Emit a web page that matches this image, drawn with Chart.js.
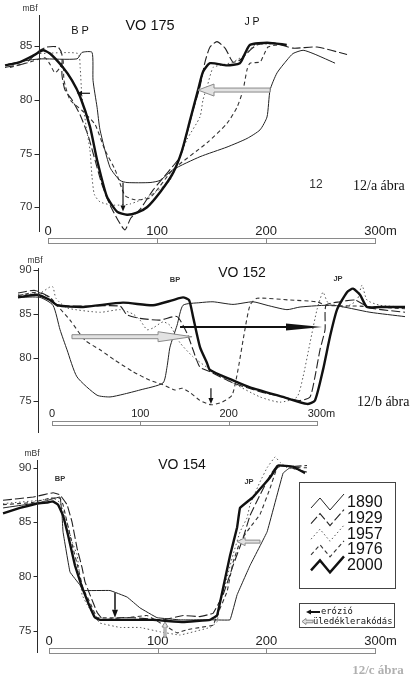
<!DOCTYPE html>
<html>
<head>
<meta charset="utf-8">
<title>VO 175 / VO 152 / VO 154</title>
<script src="https://cdn.jsdelivr.net/npm/chart.js@4.4.1/dist/chart.umd.min.js"></script>
<style>
  html, body { margin: 0; padding: 0; background: #fff; }
  #wrap { position: relative; width: 412px; height: 682px; overflow: hidden; }
  canvas { position: absolute; left: 0; display: block; }
</style>
</head>
<body>
<div id="wrap">
  <canvas id="p1" width="412" height="245" style="top:0"></canvas>
  <canvas id="p2" width="412" height="195" style="top:245px"></canvas>
  <canvas id="p3" width="412" height="242" style="top:440px"></canvas>
</div>
<script>
// évek (jelmagyarázat)
const years = ['1890', '1929', '1957', '1976', '2000'];

// y tengely feliratai (mBf) és a lépték (m)
const ticks175 = [70, 75, 80, 85];
const ticks152 = [75, 80, 85, 90];
const ticks154 = [75, 80, 85, 90];
const barTicks = [0, 100, 200, 300];
const barLabels = ['0', '100', '200', '300m'];

// --- VO 175 szelvény: [távolság m, magasság mBf] ---
const vo175_1890 = [[-36.7,83.3],[-16.5,83.7],[-5.5,83.8],[26.6,83.8],[31.2,84.4],[40.4,84.4],[41.3,81.8],[45,79.3],[47.7,77.2],[56.9,73.7],[66,72.5],[72.5,72.3],[93.6,72.3],[102.8,72.5],[114.7,73.5],[139.4,74.7],[164.2,75.6],[182.6,76.4],[194.5,77.2],[200.9,78.4],[203.7,80.9],[210.1,82.5],[219.3,83.7],[224.8,84.3],[234,84.6],[243.1,84.3],[252.3,83.9],[263.3,83.4]];
const vo175_1929 = [[-39.4,83.0],[-21.1,83.4],[-7.3,84.6],[-0.9,84.9],[9.2,84.9],[12.8,84.2],[12.8,82.3],[15.6,80.9],[22,80.0],[29.4,78.6],[36.7,76.7],[43.1,74.4],[49.5,72.1],[56.9,70.2],[64.2,68.8],[70.6,67.9],[76,69.0],[84.4,69.8],[96.3,71.6],[111.9,73.5],[121.1,74.7],[128.4,77.2],[133,79.0],[139.4,81.2],[144,83.5],[148.6,84.9],[155,85.4],[162.4,84.8],[169.7,83.5],[176.1,83.7],[185.3,84.6],[191.7,85.1],[206.4,85.3],[224.8,84.8],[246.8,84.9],[274.3,84.2]];
const vo175_1957 = [[-7.3,84.3],[27.5,84.3],[29.5,83.0],[31,80.5],[35,77.5],[38.5,75.3],[40.4,72.8],[42.5,71.2],[47.7,70.5],[59.6,70.2],[75.2,70.3],[93.6,71.1],[111.9,72.5],[127.5,76.3],[139.4,78.4],[142.2,80.0],[145.9,81.2],[151.4,83.0],[157.8,83.2],[169.7,83.5],[180.7,84.2],[189.9,85.1],[208.3,85.2]];
const vo175_1976 = [[-34.9,83.0],[-16.5,83.5],[-2.8,83.9],[1.8,83.3],[6.4,82.5],[11,83.0],[13.8,83.7],[14.7,81.8],[20.2,80.0],[31.2,79.0],[43.1,77.7],[52.3,75.3],[61.5,73.5],[70.6,71.1],[79.8,70.7],[93.6,70.9],[114.7,73.5],[145.9,76.0],[164.2,77.8],[173.4,79.3],[178.9,80.9],[182.6,82.8],[185.3,83.4],[194.5,83.5],[197.2,84.0],[201.8,84.9],[210.1,85.1]];
const vo175_2000 = [[-39.4,83.2],[-25.7,83.5],[-11.9,84.2],[-4.6,84.6],[1.8,84.3],[13.8,83.0],[22,81.8],[29.4,80.3],[38.5,77.5],[45,74.4],[54,71.0],[63.3,69.6],[72.5,69.3],[81.7,69.5],[90.8,70.0],[102.8,71.4],[114.7,73.2],[123,75.3],[130.3,78.1],[137.6,80.9],[142.2,82.6],[148.6,83.4],[164.2,83.2],[176,83.4],[180.7,84.3],[185.3,85.1],[201,85.3],[219,85.1]];

// --- VO 152 szelvény ---
const vo152_1890 = [[-38.5,86.9],[-13.6,86.9],[1.1,86.0],[9.1,83.2],[17,80.9],[28.3,77.8],[51,75.7],[65.7,75.5],[80.4,75.8],[99.7,76.3],[125.7,77.1],[130.2,78.9],[133.6,81.2],[141.6,83.7],[148.4,86.0],[167.6,86.3],[182.3,86.4],[205,86.1],[227.6,86.4],[243.5,86.0],[266.1,85.5],[280.9,85.8],[318.2,86.0],[360.1,85.2],[399.8,84.7]];
const vo152_1929 = [[-38.5,87.4],[-19.3,87.7],[-2.3,86.9],[5.7,86.0],[35.1,85.9],[77,85.9],[84.9,84.9],[99.7,84.5],[122.3,84.3],[141.6,84.7],[152.9,82.8],[159.7,80.9],[167.6,78.9],[178.9,78.4],[205,77.1],[235.6,76.1],[261.6,75.5],[280.9,75.1],[292.2,75.5],[297.8,77.8],[303.5,80.9],[309.2,83.2],[310.3,86.0],[326.2,86.4],[343.1,86.6],[360.1,85.7],[399.8,85.2]];
const vo152_1957 = [[-38.5,87.2],[-13.6,87.4],[-2.3,88.1],[1.1,88.1],[4.5,86.8],[17,85.7],[54.4,85.2],[77,85.5],[91.7,85.0],[99.7,84.3],[107.6,83.2],[114.4,83.4],[125.7,84.1],[133.6,83.7],[145,81.7],[159.7,80.1],[175.5,78.9],[205,77.1],[235.6,75.5],[258.2,74.9],[277.5,75.5],[284.3,77.8],[292.2,81.7],[300.1,85.5],[306.9,87.5],[312.6,86.3],[331.8,85.8],[345.4,86.6],[351.1,88.3],[356.7,86.6],[371.5,86.0],[399.8,85.8]];
const vo152_1976 = [[-38.5,87.1],[-17,87.5],[-2.3,86.9],[5.7,86.0],[20.4,84.3],[37.4,82.0],[54.4,80.9],[71.3,79.7],[91.7,78.4],[111,77.4],[125.7,76.9],[139.3,76.3],[147.2,76.5],[156.3,76.0],[167.6,75.1],[180.1,74.6],[192.5,74.9],[203.9,75.7],[210.6,78.6],[217.4,82.6],[224.2,86.0],[232.2,86.8],[269.5,86.6],[300.1,86.4],[310.3,86.0],[348.8,85.9],[399.8,85.6]];
const vo152_2000 = [[-38.5,86.9],[-17,87.2],[-2.3,86.6],[5.7,86.0],[35.1,85.8],[80.4,86.3],[114.4,86.0],[137,86.6],[148.4,86.9],[155.2,86.6],[159.7,84.7],[167.6,81.2],[175.5,79.4],[178.9,78.6],[205,77.4],[224.2,76.6],[261.6,75.5],[288.8,74.7],[297.8,75.1],[306.9,78.6],[314.8,82.4],[322.8,85.5],[334.1,87.5],[340.9,87.9],[348.8,87.2],[356.7,85.8],[371.5,85.8],[399.8,85.8]];

// --- VO 154 szelvény ---
const vo154_1890 = [[-42.3,86.3],[-8.3,86.8],[10.1,87.3],[12,85.6],[12.9,84.1],[19.3,80.4],[28.5,79.2],[31.3,78.7],[56.1,78.7],[71.8,78.1],[83.7,77.1],[99.4,76.2],[120.5,76.0],[150.9,76.0],[166.5,76.0],[173,78.3],[184.9,81.0],[200.6,84.1],[215.3,89.5],[221.7,90.0],[237.3,89.6]];
const vo154_1929 = [[-42.3,87.0],[-14.7,87.3],[3.7,87.7],[10.1,87.5],[16.6,86.6],[21.2,85.0],[25.8,82.6],[30.4,80.8],[33.1,79.5],[37.7,78.3],[44.2,76.7],[49.7,76.0],[65.3,76.2],[77.3,76.2],[104.9,76.0],[123.3,76.4],[138.9,76.3],[150.9,76.6],[160.1,78.3],[169.3,81.0],[178.5,83.5],[184.9,85.6],[194.1,87.5],[203.3,89.3],[209.8,90.2],[221.7,90.1],[237.3,90.2]];
const vo154_1957 = [[-42.3,86.7],[-8.3,87.0],[3.7,87.2],[10.1,86.8],[16.6,85.0],[21.2,83.2],[25.8,82.0],[28.5,79.9],[30.4,78.3],[35,77.4],[44.2,76.0],[46.9,75.7],[65.3,75.3],[83.7,75.3],[102.1,74.9],[120.5,74.6],[148.1,75.3],[154.6,75.8],[157.3,77.6],[161.9,79.2],[169.3,82.0],[175.7,84.1],[182.2,85.4],[184.9,86.6],[194.1,88.7],[200.6,90.0],[208,91.0],[212.5,90.5],[218.9,90.0],[230.9,89.8]];
const vo154_1976 = [[-42.3,86.6],[-14.7,86.8],[0.9,87.2],[10.1,87.2],[12.9,86.6],[16.6,85.0],[22.1,82.6],[26.7,80.8],[31.3,78.9],[37.7,77.6],[44.2,76.2],[71.8,76.2],[90.2,76.4],[109.5,75.3],[117.8,74.8],[127,75.1],[138.9,75.3],[150.9,75.5],[154.6,76.4],[163.8,78.6],[169.3,81.3],[175.7,83.2],[184.9,84.5],[194.1,85.7],[203.3,88.1],[209.8,90.0],[215.3,90.2],[230.9,90.0],[237.3,90.0]];
const vo154_2000 = [[-42.3,85.8],[-26.7,86.3],[-11,86.7],[-1.8,86.8],[3.7,86.9],[8.3,86.6],[12.9,85.6],[17.5,83.8],[23.9,81.0],[30.4,79.0],[35.9,77.6],[42.3,76.2],[46.9,76.0],[95.7,76.0],[108.6,75.9],[123.3,75.8],[148.1,76.0],[154.6,76.4],[160.1,78.9],[166.5,81.9],[173,84.5],[175.7,86.3],[187.7,87.3],[203.3,89.1],[210.7,90.2],[224.5,90.1],[235.5,89.5]];

// nyilak: erózió (fekete) és üledéklerakódás (üres)
const arrows175 = [
  { kind: 'solid', from: [38.5, 80.6], to: [26.6, 80.6], head: 5, hw: 2.5, w: 1.2 },
  { kind: 'solid', from: [68.8, 72.3], to: [68.8, 69.6], head: 6, hw: 2.5, w: 1.2 },
  { kind: 'hollow', from: [203.7, 80.9], to: [137.6, 80.9], head: 16, hw: 6, sw: 2 }
];
const arrows152 = [
  { kind: 'hollow', from: [22.6, 82.4], to: [158.6, 82.4], head: 34, hw: 5, sw: 2 },
  { kind: 'solid', from: [145, 83.5], to: [305.8, 83.5], head: 36, hw: 3.5, w: 2 },
  { kind: 'solid', from: [180, 76.5], to: [180, 74.7], head: 6, hw: 2.5, w: 1.2 }
];
const arrows154 = [
  { kind: 'solid', from: [60.7, 78.5], to: [60.7, 76.2], head: 8, hw: 3, w: 1.5 },
  { kind: 'hollow', from: [194.1, 83.2], to: [173, 83.2], head: 8, hw: 4, sw: 1.5 },
  { kind: 'hollow', from: [106.7, 74.4], to: [106.7, 75.8], head: 5, hw: 3, sw: 1 }
];

// vonalstílusok évenként
const yearStyle = {
  '1890': { width: 1, dash: [], color: '#222' },
  '1929': { width: 1.1, dash: [9, 3], color: '#222' },
  '1957': { width: 1, dash: [1.5, 2.5], color: '#555' },
  '1976': { width: 1.1, dash: [4, 3], color: '#333' },
  '2000': { width: 2.4, dash: [], color: '#111' }
};

const SANS = '"Liberation Sans", Arial, sans-serif';
const SERIF = '"Liberation Serif", "DejaVu Serif", serif';

function solidArrow(ctx, x1, y1, x2, y2, a) {
  const ang = Math.atan2(y2 - y1, x2 - x1);
  const c = Math.cos(ang), s = Math.sin(ang);
  const bx = x2 - a.head * c, by = y2 - a.head * s;
  ctx.setLineDash([]);
  ctx.strokeStyle = '#111';
  ctx.fillStyle = '#111';
  ctx.lineWidth = a.w;
  ctx.beginPath();
  ctx.moveTo(x1, y1);
  ctx.lineTo(bx, by);
  ctx.stroke();
  ctx.beginPath();
  ctx.moveTo(x2, y2);
  ctx.lineTo(bx - a.hw * s, by + a.hw * c);
  ctx.lineTo(bx + a.hw * s, by - a.hw * c);
  ctx.closePath();
  ctx.fill();
}

function hollowArrow(ctx, x1, y1, x2, y2, a) {
  const ang = Math.atan2(y2 - y1, x2 - x1);
  const L = Math.hypot(x2 - x1, y2 - y1);
  ctx.save();
  ctx.translate(x1, y1);
  ctx.rotate(ang);
  ctx.setLineDash([]);
  ctx.beginPath();
  ctx.moveTo(0, -a.sw);
  ctx.lineTo(L - a.head, -a.sw);
  ctx.lineTo(L - a.head, -a.hw);
  ctx.lineTo(L, 0);
  ctx.lineTo(L - a.head, a.hw);
  ctx.lineTo(L - a.head, a.sw);
  ctx.lineTo(0, a.sw);
  ctx.closePath();
  ctx.fillStyle = '#e2e2e2';
  ctx.fill();
  ctx.strokeStyle = '#8a8a8a';
  ctx.lineWidth = 1;
  ctx.stroke();
  ctx.restore();
}

// tengely, lépték, nyilak, feliratok
function sectionDecor(opt) {
  return {
    id: 'sectionDecor',
    afterDatasetsDraw(chart) {
      const { ctx, chartArea: area, scales: { x, y } } = chart;
      const px = v => x.getPixelForValue(v);
      const py = v => y.getPixelForValue(v);
      ctx.save();
      ctx.setLineDash([]);

      // y tengely
      const ax = Math.round(px(opt.axisAt)) + 0.5;
      ctx.strokeStyle = '#2a2a2a';
      ctx.lineWidth = 1;
      ctx.beginPath();
      ctx.moveTo(ax, area.top);
      ctx.lineTo(ax, area.bottom);
      opt.yTicks.forEach(t => {
        const ty = Math.round(py(t)) + 0.5;
        ctx.moveTo(ax - opt.tickLen, ty);
        ctx.lineTo(ax, ty);
      });
      ctx.stroke();
      ctx.fillStyle = '#333';
      ctx.font = opt.tickFont;
      ctx.textAlign = 'right';
      ctx.textBaseline = 'middle';
      opt.yTicks.forEach(t => ctx.fillText(String(t), ax - opt.tickLen - 2, py(t)));

      // lépték
      const b0 = Math.round(px(barTicks[0])) + 0.5;
      const b1 = Math.round(px(barTicks[barTicks.length - 1])) + 0.5;
      ctx.strokeStyle = '#8a8a8a';
      ctx.strokeRect(b0, opt.barY + 0.5, b1 - b0, opt.barH);
      ctx.beginPath();
      barTicks.slice(1, -1).forEach(t => {
        const bx = Math.round(px(t)) + 0.5;
        ctx.moveTo(bx, opt.barY);
        ctx.lineTo(bx, opt.barY + opt.barH);
      });
      ctx.stroke();
      ctx.font = opt.barFont;
      ctx.fillStyle = '#222';
      ctx.textAlign = 'left';
      barTicks.forEach((t, i) => {
        const w = ctx.measureText(String(t)).width;
        ctx.fillText(barLabels[i], px(t) - w / 2, opt.barLabelY);
      });

      // nyilak
      opt.arrows.forEach(a => {
        const x1 = px(a.from[0]), y1 = py(a.from[1]);
        const x2 = px(a.to[0]), y2 = py(a.to[1]);
        if (a.kind === 'hollow') hollowArrow(ctx, x1, y1, x2, y2, a);
        else solidArrow(ctx, x1, y1, x2, y2, a);
      });

      // feliratok
      opt.texts.forEach(t => {
        ctx.font = t.font;
        ctx.fillStyle = t.color || '#111';
        ctx.textAlign = t.align || 'center';
        ctx.textBaseline = 'middle';
        ctx.fillText(t.text, t.x, t.y);
      });

      if (opt.extra) opt.extra(ctx);
      ctx.restore();
    }
  };
}

function drawLegend(ctx) {
  ctx.setLineDash([]);
  ctx.strokeStyle = '#444';
  ctx.lineWidth = 1;
  ctx.strokeRect(299.5, 42.5, 96, 106);
  years.forEach((yr, i) => {
    const cy = 62 + i * 15.6;
    const st = yearStyle[yr];
    ctx.setLineDash(st.dash);
    ctx.lineWidth = st.width;
    ctx.strokeStyle = st.color;
    ctx.beginPath();
    ctx.moveTo(311, cy + 6);
    ctx.lineTo(320, cy - 4);
    ctx.lineTo(330, cy + 8);
    ctx.lineTo(344, cy - 8);
    ctx.stroke();
    ctx.setLineDash([]);
    ctx.fillStyle = '#111';
    ctx.font = '16px "Liberation Sans Narrow", "Liberation Sans", Arial, sans-serif';
    ctx.textAlign = 'left';
    ctx.textBaseline = 'middle';
    ctx.fillText(yr, 347, cy + 1);
  });

  ctx.strokeStyle = '#444';
  ctx.lineWidth = 1;
  ctx.strokeRect(299.5, 163.5, 95, 24);
  solidArrow(ctx, 320, 172, 306, 172, { head: 5, hw: 2.5, w: 2 });
  hollowArrow(ctx, 313, 181.5, 302, 181.5, { head: 4, hw: 3, sw: 1.3 });
  ctx.fillStyle = '#111';
  ctx.font = '8.8px "DejaVu Sans Mono", monospace';
  ctx.textAlign = 'left';
  ctx.textBaseline = 'middle';
  ctx.fillText('erózió', 321, 172);
  ctx.fillText('üledéklerakódás', 313, 182);
}

function makeSection(id, series, xr, yr, pad, tension, decor) {
  return new Chart(document.getElementById(id), {
    type: 'line',
    data: {
      datasets: years.map((yrName, i) => ({
        label: yrName,
        data: series[i].map(p => ({ x: p[0], y: p[1] })),
        borderColor: yearStyle[yrName].color,
        borderWidth: yearStyle[yrName].width,
        borderDash: yearStyle[yrName].dash,
        pointRadius: 0,
        fill: false,
        tension: tension,
        clip: false,
        order: years.length - 1 - i
      }))
    },
    options: {
      responsive: false,
      animation: false,
      events: [],
      layout: { padding: pad },
      scales: {
        x: { type: 'linear', min: xr[0], max: xr[1], display: false },
        y: { type: 'linear', min: yr[0], max: yr[1], display: false }
      },
      plugins: { legend: { display: false }, tooltip: { enabled: false } }
    },
    plugins: [decor]
  });
}

makeSection('p1',
  [vo175_1890, vo175_1929, vo175_1957, vo175_1976, vo175_2000],
  [-44.04, 333.9], [67.70, 87.88], { top: 15, bottom: 13, left: 0, right: 0 }, 0.2,
  sectionDecor({
    axisAt: -8.3, yTicks: ticks175, tickLen: 5, tickFont: '11.5px ' + SANS,
    barY: 238, barH: 5, barLabelY: 231, barFont: '13px ' + SANS,
    arrows: arrows175,
    texts: [
      { text: 'mBf', x: 30, y: 9, font: '8.5px ' + SANS, color: '#333' },
      { text: 'B P', x: 80, y: 31, font: '11px ' + SANS },
      { text: 'VO 175', x: 150, y: 26, font: '14.5px ' + SANS },
      { text: 'J P', x: 252, y: 22, font: '10.5px ' + SANS },
      { text: '12', x: 316, y: 185, font: '12px ' + SANS, color: '#333' },
      { text: '12/a ábra', x: 353, y: 186, font: '14px ' + SERIF, align: 'left' }
    ]
  }));

makeSection('p2',
  [vo152_1890, vo152_1929, vo152_1957, vo152_1976, vo152_2000],
  [-58.9, 407.7], [71.37, 90.27], { top: 23, bottom: 7, left: 0, right: 0 }, 0.2,
  sectionDecor({
    axisAt: -15.9, yTicks: ticks152, tickLen: 5, tickFont: '11px ' + SANS,
    barY: 176, barH: 4, barLabelY: 169, barFont: '11px ' + SANS,
    arrows: arrows152,
    texts: [
      { text: 'mBf', x: 35, y: 16, font: '8.5px ' + SANS, color: '#333' },
      { text: 'BP', x: 175, y: 35, font: 'bold 7.5px ' + SANS, color: '#333' },
      { text: 'VO 152', x: 242, y: 28, font: '14px ' + SANS },
      { text: 'JP', x: 338, y: 34, font: 'bold 7.5px ' + SANS, color: '#333' },
      { text: '12/b ábra', x: 357, y: 157, font: '14px ' + SERIF, align: 'left' }
    ]
  }));

makeSection('p3',
  [vo154_1890, vo154_1929, vo154_1957, vo154_1976, vo154_2000],
  [-45.08, 333.9], [72.95, 90.71], { top: 20, bottom: 29, left: 0, right: 0 }, 0.05,
  sectionDecor({
    axisAt: -11, yTicks: ticks154, tickLen: 4, tickFont: '11.5px ' + SANS,
    barY: 208, barH: 5, barLabelY: 201, barFont: '13px ' + SANS,
    arrows: arrows154,
    texts: [
      { text: 'mBf', x: 32, y: 14, font: '8.5px ' + SANS, color: '#333' },
      { text: 'BP', x: 60, y: 39, font: 'bold 7.5px ' + SANS, color: '#333' },
      { text: 'VO 154', x: 182, y: 25, font: '14px ' + SANS },
      { text: 'JP', x: 249, y: 42, font: 'bold 7.5px ' + SANS, color: '#333' },
      { text: '12/c ábra', x: 378, y: 231, font: 'bold 13px ' + SERIF, color: '#b0b0b0' }
    ],
    extra: drawLegend
  }));
</script>
</body>
</html>
